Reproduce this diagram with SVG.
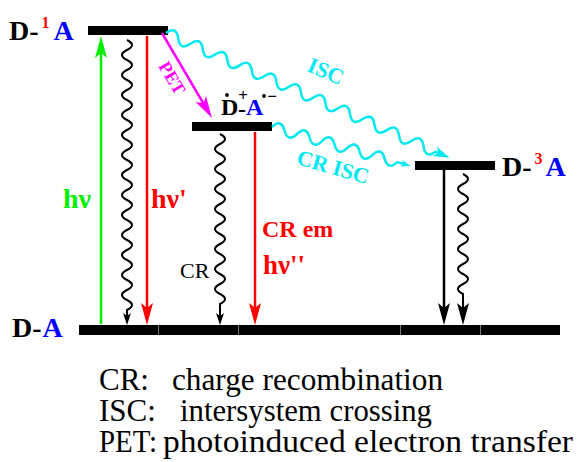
<svg xmlns="http://www.w3.org/2000/svg" width="577" height="462" viewBox="0 0 577 462">
<style>
.t{font-family:'Liberation Serif','Tinos','Times New Roman','DejaVu Serif','Noto Serif',serif;font-weight:bold}
.r{font-family:'Liberation Serif','Tinos','Times New Roman','DejaVu Serif','Noto Serif',serif;font-weight:normal}
.lg{font-size:31px;fill:#000}
.bar{fill:#000}
.wv{fill:none;stroke:#000;stroke-width:2}
.cy{fill:none;stroke:#00e8f0;stroke-width:2.5}
</style>
<defs>
<marker id="mR" markerUnits="userSpaceOnUse" markerWidth="24" markerHeight="14" refX="12" refY="7" orient="auto"><path d="M0,1 L22,7 L0,13 L5,7 z" fill="#ff0000"/></marker>
<marker id="mG" markerUnits="userSpaceOnUse" markerWidth="24" markerHeight="14" refX="12" refY="7" orient="auto"><path d="M0,1 L22,7 L0,13 L5,7 z" fill="#00ee00"/></marker>
<marker id="mK" markerUnits="userSpaceOnUse" markerWidth="24" markerHeight="14" refX="12" refY="7" orient="auto"><path d="M0,1 L22,7 L0,13 L5,7 z" fill="#000"/></marker>
<marker id="mM" markerUnits="userSpaceOnUse" markerWidth="24" markerHeight="14" refX="12" refY="7" orient="auto"><path d="M0,1 L22,7 L0,13 L5,7 z" fill="#ff00ff"/></marker>
<marker id="mk" markerUnits="userSpaceOnUse" markerWidth="14" markerHeight="10" refX="6" refY="5" orient="auto"><path d="M0,1 L12,5 L0,9 L3,5 z" fill="#000"/></marker>
<marker id="mC" markerUnits="userSpaceOnUse" markerWidth="18" markerHeight="12" refX="6" refY="6" orient="auto"><path d="M0,1 L16,6 L0,11 L4,6 z" fill="#00e8f0"/></marker>
<marker id="mc" markerUnits="userSpaceOnUse" markerWidth="12" markerHeight="9" refX="4" refY="4.5" orient="auto"><path d="M0,1 L10,4.5 L0,8 L3,4.5 z" fill="#00e8f0"/></marker>
</defs>

<g id="level-DA">
<rect class="bar" x="79" y="325" width="481" height="10"/>
<g stroke="#777" stroke-width="1"><line x1="158.5" y1="325" x2="158.5" y2="335"/><line x1="238.5" y1="325" x2="238.5" y2="335"/><line x1="400.5" y1="325" x2="400.5" y2="335"/><line x1="480.5" y1="325" x2="480.5" y2="335"/></g>
<text class="t" x="12" y="337" font-size="28"><tspan fill="#000">D-</tspan><tspan fill="#0000ff" dx="1">A</tspan></text>
</g>

<g id="level-D1A">
<rect class="bar" x="88" y="26" width="80" height="9"/>
<text class="t" x="9" y="40" font-size="28"><tspan fill="#000">D-</tspan><tspan fill="#ff0000" font-size="16" dy="-12" dx="3">1</tspan><tspan fill="#0000ff" dy="12" dx="4">A</tspan></text>
</g>

<g id="level-CT">
<rect class="bar" x="192" y="122" width="80" height="9"/>
<text class="t" font-size="24"><tspan x="221" y="115" fill="#000">D</tspan><tspan x="238" y="117" fill="#000">-</tspan><tspan x="246" y="115" fill="#0000ff">A</tspan></text>
<circle cx="227" cy="95" r="1.9" fill="#000"/>
<text class="t" x="243" y="101" font-size="17" text-anchor="middle" fill="#000">+</text>
<circle cx="264" cy="96" r="1.9" fill="#000"/>
<text class="t" x="272" y="102" font-size="17" text-anchor="middle" fill="#000">−</text>
</g>

<g id="level-D3A">
<rect class="bar" x="415" y="161" width="80" height="9"/>
<text class="t" x="502" y="176" font-size="28"><tspan fill="#000">D-</tspan><tspan fill="#ff0000" font-size="16" dy="-12" dx="3">3</tspan><tspan fill="#0000ff" dy="12" dx="3">A</tspan></text>
</g>

<g id="connectors">
<path d="M101,324 V46" stroke="#00ee00" stroke-width="2.5" fill="none" marker-end="url(#mG)"/>
<path d="M147,36 V315" stroke="#ff0000" stroke-width="2.5" fill="none" marker-end="url(#mR)"/>
<path d="M255,132 V315" stroke="#ff0000" stroke-width="2.5" fill="none" marker-end="url(#mR)"/>
<path d="M444,170 V315" stroke="#000" stroke-width="2.5" fill="none" marker-end="url(#mK)"/>
<path d="M162,33 L206.9,109.4" stroke="#ff00ff" stroke-width="2.5" fill="none" marker-end="url(#mM)"/>
<path class="wv" d="M127,40 q10,5 0,10 t0,10 t0,10 t0,10 t0,10 t0,10 t0,10 t0,10 t0,10 t0,10 t0,10 t0,10 t0,10 t0,10 t0,10 t0,10 t0,10 t0,10 t0,10 t0,10 t0,10 t0,10 t0,10 t0,10 t0,10 t0,10 t0,10 l0,9" marker-end="url(#mk)"/>
<path class="wv" d="M220,134 q10,5 0,10 t0,10 t0,10 t0,10 t0,10 t0,10 t0,10 t0,10 t0,10 t0,10 t0,10 t0,10 t0,10 t0,10 t0,10 t0,10 t0,10 l0,15" marker-end="url(#mk)"/>
<path class="wv" d="M463,174 q10,5 0,10 t0,10 t0,10 t0,10 t0,10 t0,10 t0,10 t0,10 t0,10 t0,10 t0,10 t0,10 l0,21" marker-end="url(#mK)"/>
<path class="cy" transform="translate(166,33) rotate(23.75)" d="M0,0 q6.7,-11 13.4,0 t13.4,0 t13.4,0 t13.4,0 t13.4,0 t13.4,0 t13.4,0 t13.4,0 t13.4,0 t13.4,0 t13.4,0 t13.4,0 t13.4,0 t13.4,0 t13.4,0 t13.4,0 t13.4,0 t13.4,0 t13.4,0 t13.4,0 t13.4,0 t13.4,0 l5,0" marker-end="url(#mC)"/>
<path class="cy" transform="translate(272,127) rotate(15.67)" d="M0,0 q6.5,-11 13,0 t13,0 t13,0 t13,0 t13,0 t13,0 t13,0 t13,0 t13,0 t13,0 l8,0" marker-end="url(#mc)"/>
</g>

<g id="labels">
<text class="t" x="63" y="208" font-size="28" fill="#00ee00">hν</text>
<text class="t" x="151" y="208" font-size="28" fill="#ff0000">hν'</text>
<text class="t" x="262" y="237" font-size="24" fill="#ff0000">CR em</text>
<text class="t" x="263" y="274" font-size="27" fill="#ff0000">hν''</text>
<text class="r" x="180" y="278" font-size="22" fill="#000">CR</text>
<text class="t" font-size="18" fill="#ff00ff" text-anchor="middle" transform="translate(167,81) rotate(59.5)">PET</text>
<text class="t" font-size="22" fill="#00e8f0" text-anchor="middle" transform="translate(323,78) rotate(23)">ISC</text>
<text class="t" font-size="22" fill="#00e8f0" text-anchor="middle" transform="translate(331,174) rotate(16)">CR ISC</text>
</g>

<g id="legend">
<text class="r lg" x="99" y="390">CR:</text><text class="r lg" x="172" y="390" textLength="271" lengthAdjust="spacingAndGlyphs">charge recombination</text>
<text class="r lg" x="99" y="421">ISC:</text><text class="r lg" x="180" y="421" textLength="252" lengthAdjust="spacingAndGlyphs">intersystem crossing</text>
<text class="r lg" x="99" y="452" textLength="58" lengthAdjust="spacingAndGlyphs">PET:</text><text class="r lg" x="163" y="452" textLength="410" lengthAdjust="spacingAndGlyphs">photoinduced electron transfer</text>
</g>
</svg>
